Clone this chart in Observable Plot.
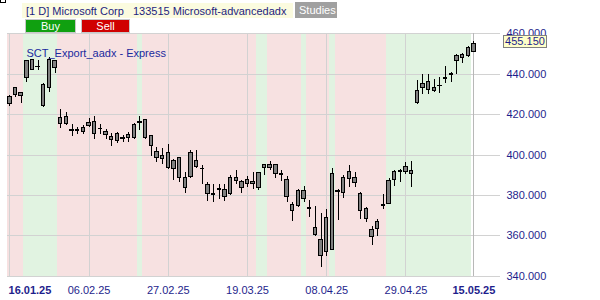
<!DOCTYPE html>
<html><head><meta charset="utf-8">
<script src="https://cdn.jsdelivr.net/npm/d3@7"></script>
<script src="https://cdn.jsdelivr.net/npm/@observablehq/plot@0.6"></script>
<style>
html,body{margin:0;padding:0;background:#fff;}
#wrap{position:relative;width:600px;height:300px;overflow:hidden;font-family:"Liberation Sans",Arial,sans-serif;font-size:11px;}
#chart{position:absolute;left:0;top:0;}
.abs{position:absolute;line-height:11px;white-space:pre;}
</style></head>
<body>
<div id="wrap">
<div id="chart"></div>
<div class="abs" style="left:0;top:0;width:4px;height:2px;border:1px solid #000;border-top:none;"></div>
<div class="abs" style="left:22px;top:3px;width:271px;height:15px;background:#fbfbdf;"></div>
<div class="abs" id="hdr" style="left:26px;top:5.7px;color:#1e1e7e;"></div>
<div class="abs" style="left:295px;top:2px;width:42px;height:16px;background:#a0a0a0;"></div>
<div class="abs" id="studies" style="left:299px;top:4.5px;color:#fff;"></div>
<div class="abs" style="left:25px;top:19px;width:49px;height:12px;background:#10a010;border:1px solid #c8c8c8;"></div>
<div class="abs" id="buy" style="left:25px;top:20.5px;width:51px;text-align:center;color:#fff;"></div>
<div class="abs" style="left:81px;top:19px;width:47px;height:12px;background:#d00000;border:1px solid #c8c8c8;"></div>
<div class="abs" id="sell" style="left:81px;top:20.5px;width:49px;text-align:center;color:#fff;"></div>
<div class="abs" id="study" style="left:26.5px;top:48.4px;color:#1a2a9e;"></div>
<div class="abs" id="last" style="left:503px;width:42px;height:11px;background:#ffffc8;border:1px solid #808080;color:#1e1e8c;text-align:center;"></div>
</div>
<script>
// ---- data ----
const headerText = "[1 D] Microsoft Corp   133515 Microsoft-advancedadx";
const studyText = "SCT_Export_aadx - Express";
const buttonLabels = ["Buy", "Sell", "Studies"];

const open  = [428.8,433.1,430.6,438.3,442.3,443.8,424.3,433.4,446.3,418.2,418.9,412.2,412.1,411.6,414.6,416.4,413.1,411.5,409.0,407.0,408.5,408.3,408.6,416.0,417.2,409.3,401.7,397.8,401.1,393.0,398.4,383.6,389.3,394.3,393.3,385.2,380.5,382.7,382.9,380.6,388.8,386.4,385.5,386.5,383.6,393.5,393.8,395.0,390.7,387.5,375.3,374.7,378.1,373.9,363.8,350.2,368.7,353.2,382.1,381.1,388.0,388.7,380.6,373.2,362.8,363.3,374.8,375.9,387.7,391.5,391.5,392.0,431.6,433.4,432.4,433.1,434.0,437.8,439.8,446.3,447.9,448.9,451.2];
const high  = [429.3,433.4,430.9,446.9,447.3,446.6,435.4,448.3,446.9,422.7,421.0,415.2,413.6,414.4,418.2,418.9,415.2,412.8,410.6,411.1,409.5,411.0,415.6,419.2,417.7,409.3,403.7,403.4,405.3,397.8,398.7,391.3,402.0,402.0,394.6,386.4,385.2,385.5,385.2,389.7,392.1,387.5,389.5,391.5,391.5,395.5,396.6,395.5,392.1,389.2,376.5,382.7,384.6,377.3,374.4,371.0,373.2,393.1,382.9,389.7,394.6,391.3,381.3,374.0,364.4,367.9,380.3,388.3,392.1,392.6,396.1,396.6,436.7,439.7,439.7,437.5,438.3,443.6,440.7,449.9,450.4,453.7,456.0];
const low   = [423.8,428.4,425.5,435.9,441.7,441.7,423.5,430.9,440.3,413.3,414.4,409.0,410.0,410.0,413.6,407.8,410.3,407.8,404.4,405.8,406.0,406.0,407.8,412.3,407.8,399.1,396.3,395.4,393.0,387.2,386.4,380.9,388.5,393.5,385.5,377.0,376.5,378.1,377.0,379.8,385.2,380.9,383.9,383.0,382.2,389.8,392.1,388.2,386.9,376.5,367.1,374.0,376.5,369.0,359.5,344.3,349.6,352.5,367.4,378.4,383.9,383.9,368.2,366.6,355.0,359.6,373.2,375.3,384.2,386.2,390.2,383.9,424.8,430.1,429.8,430.8,430.4,435.4,435.7,440.0,445.4,448.3,450.8];
const close = [425.1,429.6,429.1,446.6,446.9,443.5,434.7,446.9,443.0,415.2,415.2,411.8,412.5,413.3,415.9,410.3,412.7,409.8,407.3,410.3,408.1,410.0,414.9,416.4,408.6,404.4,398.4,399.6,393.5,397.1,388.8,388.5,401.1,397.1,392.9,380.6,380.1,383.1,379.3,388.8,386.9,383.9,387.5,385.5,391.2,395.0,395.1,390.5,390.3,379.3,372.3,382.1,382.1,373.5,360.5,357.8,352.2,390.5,381.7,388.5,391.8,386.0,372.3,368.2,359.5,366.6,375.2,387.0,391.7,391.9,394.0,390.5,425.5,435.0,436.2,431.7,434.4,438.2,440.2,449.2,449.4,452.9,455.15];
// study signal per bar: S = sell zone, B = buy zone, - = none
const signal = ["SSS","BBBBBB","SSSSSSSSSSSSSS","B","SSSSSSSSSSSSSSSSSSSS","BB","SSSSSS","B","SSSS","B","SSSSSSSSS","BBBBBBBBBBBBBBB","-"].join("").split("");
const tickBars = [0, 14, 28, 42, 56, 70, 82];
const tickLabels = ["16.01.25","06.02.25","27.02.25","19.03.25","08.04.25","29.04.25","15.05.25"];
const yTicks = [340, 360, 380, 400, 420, 440, 460];

// ---- build ----
const bars = open.map((o, i) => ({i, open: o, high: high[i], low: low[i], close: close[i], sig: signal[i]}));
const ticks = tickBars.map((b, k) => ({b, label: tickLabels[k], k}));
const pink = "#f7e1e1", green = "#e1f3e1";
const navy = "#1e1e8c";

const plot = Plot.plot({
  width: 600, height: 300,
  marginLeft: 6.5, marginRight: 100, marginTop: 33.3, marginBottom: 24.3,
  x: {domain: [-0.5, 86.7], axis: null},
  y: {domain: [340, 460], axis: null},
  style: {fontFamily: '"Liberation Sans", Arial, sans-serif', fontSize: "11px", color: navy, background: "#fff"},
  marks: [
    Plot.rect(bars.filter(d => d.sig === "S"), {x1: d => d.i - 0.5, x2: d => d.i + 0.5, y1: 340, y2: 460, fill: pink, shapeRendering: "crispEdges"}),
    Plot.rect(bars.filter(d => d.sig === "B"), {x1: d => d.i - 0.5, x2: d => d.i + 0.5, y1: 340, y2: 460, fill: green, shapeRendering: "crispEdges"}),
    Plot.ruleY(yTicks, {stroke: "#d2d2d2", shapeRendering: "crispEdges"}),
    Plot.ruleX(tickBars.slice(0, -1), {y1: 340, y2: 460, stroke: "#d2d2d2", shapeRendering: "crispEdges"}),
    Plot.ruleX(tickBars.slice(-1), {y1: 340, y2: 460, stroke: "#b8b8b8", shapeRendering: "crispEdges"}),
    Plot.ruleX(bars, {x: "i", y1: "low", y2: "high", stroke: "#000", shapeRendering: "crispEdges"}),
    Plot.rect(bars, {x1: d => d.i - 0.3, x2: d => d.i + 0.3, y1: "open", y2: "close", fill: "#808080", stroke: "#000", shapeRendering: "crispEdges"}),
    Plot.axisY(yTicks, {anchor: "right", tickSize: 0, tickPadding: 6, tickFormat: d => d.toFixed(3), fill: navy}),
    Plot.text(ticks.filter(d => d.k > 0 && d.k < ticks.length - 1), {x: "b", text: "label", frameAnchor: "bottom", dy: 17.3, fill: navy}),
    Plot.text(ticks.filter(d => d.k === ticks.length - 1), {x: "b", text: "label", frameAnchor: "bottom", dy: 17.3, fill: navy, fontWeight: "bold"}),
    Plot.text(ticks.filter(d => d.k === 0), {x: "b", text: "label", frameAnchor: "bottom", dy: 17.3, dx: -1.3, textAnchor: "start", fill: navy, fontWeight: "bold"})
  ]
});
document.getElementById("chart").appendChild(plot);

document.getElementById("hdr").textContent = headerText;
document.getElementById("study").textContent = studyText;
document.getElementById("buy").textContent = buttonLabels[0];
document.getElementById("sell").textContent = buttonLabels[1];
document.getElementById("studies").textContent = buttonLabels[2];
const lastClose = close[close.length - 1];
const lastEl = document.getElementById("last");
lastEl.textContent = lastClose.toFixed(3);
lastEl.style.top = (plot.scale("y").apply(lastClose) - 8) + "px";
</script>
</body></html>
